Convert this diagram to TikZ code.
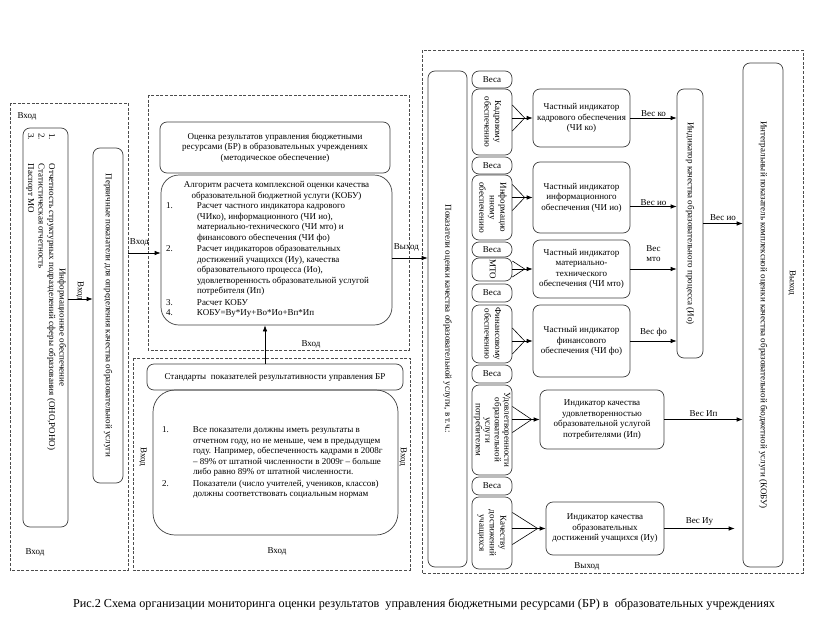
\documentclass[tikz,border=0pt]{standalone}
\usepackage{fontspec}
\setmainfont{Liberation Serif}
\usepackage{graphicx}
\usetikzlibrary{arrows.meta, positioning, calc}

\newcommand{\smallfs}{\fontsize{9}{10.5}\selectfont}
\newcommand{\vt}[1]{\rotatebox{-90}{\begin{tabular}{@{}c@{}}#1\end{tabular}}}
\newcommand{\numitem}[2]{\noindent\makebox[31pt][l]{#1}\begin{tabular}[t]{@{}l@{}}#2\end{tabular}\par}

\begin{document}
\begin{tikzpicture}[x=1pt, y=-1pt,
  every node/.style={font=\smallfs, align=center, inner sep=1pt},
  box/.style={draw=black!75, line width=0.7pt, rounded corners=7pt, inner sep=1pt},
  bigbox/.style={box, rounded corners=18pt},
  frame/.style={draw=black!70, line width=0.7pt, dash pattern=on 3pt off 1.6pt},
  arr/.style={-{Latex[length=6pt, width=4.5pt]}, line width=0.7pt},
  fan/.style={line width=0.6pt},
]
\path[fill=white] (0,0) rectangle (831,624);
\useasboundingbox (0,0) rectangle (831,624);

\draw[frame] (10,103) rectangle (128,570);
\draw[frame] (148,95) rectangle (409,350);
\draw[frame] (133,358) rectangle (410,570);
\draw[frame] (422,50) rectangle (803,573);

% left part
\node[box, minimum width=45pt, minimum height=399pt] (istoch) at (45.5,327.5)
  {\rotatebox{-90}{\parbox{389pt}{{\centering Информационное обеспечение\par}
   \numitem{1.}{Отчетность структурных подразделений сферы образования (ОНО,РОНО)}
   \numitem{2.}{Статистическая отчетность}
   \numitem{3.}{Паспорт МО}}}};
\node[box, minimum width=30pt, minimum height=335pt] (pervich) at (108,315.5)
  {\vt{Первичные показатели для определения качества образовательной услуги}};
\coordinate (yA) at (0,299);
\draw[arr] (istoch.east |- yA) -- (pervich.west |- yA);
\node[rotate=-90] (vx1) at (80,291) {Вход};
\node (vx2) at (27,116) {Вход};
\node (vx3) at (35,552) {Вход};

% middle part
\node[box, minimum width=230pt, minimum height=51pt] (ocenka) at (275,147.5)
  {Оценка результатов управления бюджетными\\ресурсами (БР) в образовательных учреждениях\\(методическое обеспечение)};
\node[bigbox, minimum width=231pt, minimum height=150pt] (alg) at (276.5,250)
  {\parbox{221pt}{{\centering Алгоритм расчета комплексной оценки качества\\образовательной бюджетной услуги (КОБУ)\par}
   \numitem{1.}{Расчет частного индикатора кадрового\\(ЧИко), информационного (ЧИ ио),\\материально-технического (ЧИ мто) и\\финансового обеспечения (ЧИ фо)}
   \numitem{2.}{Расчет индикаторов образовательных\\достижений учащихся (Иу), качества\\образовательного процесса (Ио),\\удовлетворенность образовательной услугой\\потребителя (Ип)}
   \numitem{3.}{Расчет КОБУ}
   \numitem{4.}{КОБУ=Ву*Иу+Во*Ио+Вп*Ип}}};
\coordinate (vin) at (128,253);
\draw[arr] (vin) -- node[above=5pt, pos=0.35] {Вход} (vin -| alg.west);

\node[box, minimum width=256pt, minimum height=26pt] (stand) at (275,377)
  {Стандарты\ \ показателей результативности управления БР};
\node[bigbox, rounded corners=22pt, minimum width=245pt, minimum height=145pt] (normy) at (275.5,462.5)
  {\parbox{227pt}{\numitem{1.}{Все показатели должны иметь результаты в\\отчетном году, но не меньше, чем в предыдущем\\году. Например, обеспеченность кадрами в 2008г\\– 89\% от штатной численности в 2009г – больше\\либо равно 89\% от штатной численности.}
   \numitem{2.}{Показатели (число учителей, учеников, классов)\\должны соответствовать социальным нормам}}};
\draw[arr] ([xshift=-10pt]stand.north) -- ([xshift=-10pt]stand.north |- alg.south);
\node (vx4) at (311,344) {Вход};
\node[rotate=-90] (vx5) at (143,457) {Вход};
\node[rotate=-90] (vx6) at (403,457) {Вход};
\node (vx7) at (277,551) {Вход};

% right part
\node[box, minimum width=39pt, minimum height=496pt] (pokaz) at (447.5,319)
  {\vt{Показатели оценки качества образовательной услуги, в т.ч.:}};
\draw[arr] ([yshift=-8pt]alg.east) -- node[above=5pt, pos=0.4] {Выход} ([yshift=-8pt]alg.east -| pokaz.west);

\node[box, minimum width=40pt, minimum height=17pt] (ves1) at (492,79.5) {Веса};
\node[box, minimum width=40pt, minimum height=66pt] (kadr) at (492,122) {\vt{Кадровому\\обеспечению}};
\node[box, minimum width=40pt, minimum height=17pt] (ves2) at (492,165.5) {Веса};
\node[box, minimum width=40pt, minimum height=65pt] (inform) at (492,207.5) {\vt{Информацио\\нному\\обеспечению}};
\node[box, minimum width=40pt, minimum height=15pt] (ves3) at (492,249.5) {Веса};
\node[box, minimum width=40pt, minimum height=23pt] (mto) at (492,269.5) {\vt{МТО}};
\node[box, minimum width=40pt, minimum height=18pt] (ves4) at (492,293) {Веса};
\node[box, minimum width=40pt, minimum height=58pt] (fin) at (492,334) {\vt{Финансовому\\обеспечению}};
\node[box, minimum width=40pt, minimum height=18pt] (ves5) at (492,374) {Веса};
\node[box, minimum width=40pt, minimum height=90pt, inner sep=0pt] (udovl) at (492,430)
  {\renewcommand{\arraystretch}{0.9}\vt{Удовлетворенности\\образовательной\\услуги\\потребителем}};
\node[box, minimum width=40pt, minimum height=18pt] (ves6) at (492,486) {Веса};
\node[box, minimum width=40pt, minimum height=72pt] (kach) at (492,533) {\vt{Качеству\\достижений\\учащихся}};

\node[box, minimum width=97pt, minimum height=58pt] (chiko) at (581.5,118)
  {Частный индикатор\\кадрового обеспечения\\(ЧИ ко)};
\node[box, minimum width=97pt, minimum height=71pt] (chiio) at (581.5,197.5)
  {Частный индикатор\\информационного\\обеспечения (ЧИ ио)};
\node[box, minimum width=97pt, minimum height=58pt] (chimto) at (581.5,269)
  {Частный индикатор\\материально-\\технического\\обеспечения (ЧИ мто)};
\node[box, minimum width=97pt, minimum height=72pt] (chifo) at (581.5,341)
  {Частный индикатор\\финансового\\обеспечения (ЧИ фо)};
\node[box, minimum width=124pt, minimum height=59pt] (ip) at (602,419.5)
  {Индикатор качества\\удовлетворенностью\\образовательной услугой\\потребителями (Ип)};
\node[box, minimum width=118pt, minimum height=53pt] (iu) at (605,528.5)
  {Индикатор качества\\образовательных\\достижений учащихся (Иу)};

\node[box, minimum width=26pt, minimum height=269pt] (io) at (690,223.5)
  {\vt{Индикатор качества образовательного процесса (Ио)}};
\node[box, minimum width=40pt, minimum height=504pt] (kobu) at (763,315)
  {\vt{Интегральный показатель комплексной оценки качества образовательной бюджетной услуги (КОБУ)}};

\foreach \src/\dst/\d in {kadr/chiko/13, inform/chiio/13, mto/chimto/8, fin/chifo/13, udovl/ip/13, kach/iu/16}{
  \coordinate (p) at ($(\dst.west)+(-8,0)$);
  \draw[fan] ($(\src.east |- \dst.west)+(0,-\d)$) -- (p) -- ($(\src.east |- \dst.west)+(0,\d)$);
  \draw[fan] (\src.east |- \dst.west) -- (p);
  \draw[arr] (p) -- (\dst.west);
}

\draw[arr] (chiko.east) -- node[above] {Вес ко} (chiko.east -| io.west);
\draw[arr] ([yshift=-9pt]chiio.east) -- node[above] {Вес ио} ([yshift=-9pt]chiio.east -| io.west);
\draw[arr] (chimto.east) -- node[above=6pt] {Вес\\мто} (chimto.east -| io.west);
\draw[arr] (chifo.east) -- node[above=3pt] {Вес фо} (chifo.east -| io.west);
\draw[arr] (io.east) -- node[above=2pt] {Вес ио} (io.east -| kobu.west);
\draw[arr] (ip.east) -- node[above=2pt] {Вес Ип} (ip.east -| kobu.west);
\draw[arr, shorten >=8pt] (iu.east) -- node[above=2pt, xshift=-4pt] {Вес Иу} (iu.east -| kobu.west);

\node[rotate=-90] (vyh1) at (792,283) {Выход};
\node (vyh2) at (587,566) {Выход};

\node[font=\fontsize{12.2}{14}\selectfont] (capt) at (424,604)
  {Рис.2 Схема организации мониторинга оценки результатов\ \ управления бюджетными ресурсами (БР) в\ \ образовательных учреждениях};
\end{tikzpicture}
\end{document}
